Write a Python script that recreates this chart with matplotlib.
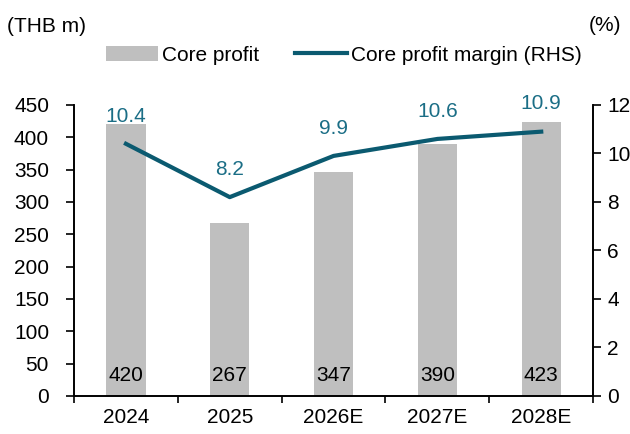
import matplotlib.pyplot as plt
import numpy as np

plt.rcParams['font.family'] = ['Liberation Sans', 'DejaVu Sans']

years = ['2024', '2025', '2026E', '2027E', '2028E']
core_profit = [420, 267, 347, 390, 423]
margin = [10.4, 8.2, 9.9, 10.6, 10.9]

bar_color = '#BFBFBF'
line_color = '#0B5A70'
label_color = '#1B6E86'
fs = 15

fig = plt.figure(figsize=(6.3, 4.34), dpi=100)
ax = fig.add_axes([0.1175, 0.0876, 0.824, 0.6705])
ax2 = ax.twinx()

x = np.arange(len(years))
ax.bar(x, core_profit, width=0.38, color=bar_color, label='Core profit', zorder=1)
for xi, v in zip(x, core_profit):
    ax.text(xi, 31, str(v), ha='center', va='center', fontsize=fs, color='black')

ax2.plot(x, margin, color=line_color, lw=3, label='Core profit margin (RHS)', zorder=3)
for xi, v in zip(x, margin):
    ax2.annotate(f'{v:.1f}', (xi, v), xytext=(0, 20), textcoords='offset points',
                 ha='center', va='center', fontsize=fs, color=label_color)

ax.set_ylim(0, 450)
ax.set_yticks(np.arange(0, 451, 50))
ax2.set_ylim(0, 12)
ax2.set_yticks(np.arange(0, 13, 2))

# x ticks at category boundaries, labels centred
ax.set_xticks(np.arange(-0.5, 5, 1))
ax.set_xticklabels([])
ax.set_xticks(x, minor=True)
ax.set_xticklabels(years, minor=True)
ax.tick_params(axis='x', which='minor', length=0, pad=9, labelsize=fs)
ax.tick_params(axis='x', which='major', length=5, width=1.2, direction='out')
ax.tick_params(axis='y', length=6, width=1.2, direction='out', labelsize=fs, pad=12)
ax2.tick_params(axis='y', length=6, width=1.2, direction='out', labelsize=fs, pad=4)

for a in (ax, ax2):
    a.spines['top'].set_visible(False)
    for s in ('left', 'right', 'bottom'):
        a.spines[s].set_linewidth(1.2)
ax.set_xlim(-0.5, 4.5)

fig.text(0.011, 0.94, '(THB m)', fontsize=fs, va='center')
fig.text(0.934, 0.942, '(%)', fontsize=fs, va='center')

h1, l1 = ax.get_legend_handles_labels()
h2, l2 = ax2.get_legend_handles_labels()
fig.legend(h1 + h2, l1 + l2, loc='center', bbox_to_anchor=(0.546, 0.873), ncol=2,
           frameon=False, fontsize=fs, handlelength=2.5, handletextpad=0.2,
           columnspacing=1.7, borderaxespad=0, borderpad=0)

fig.savefig('out.png', dpi=100)
